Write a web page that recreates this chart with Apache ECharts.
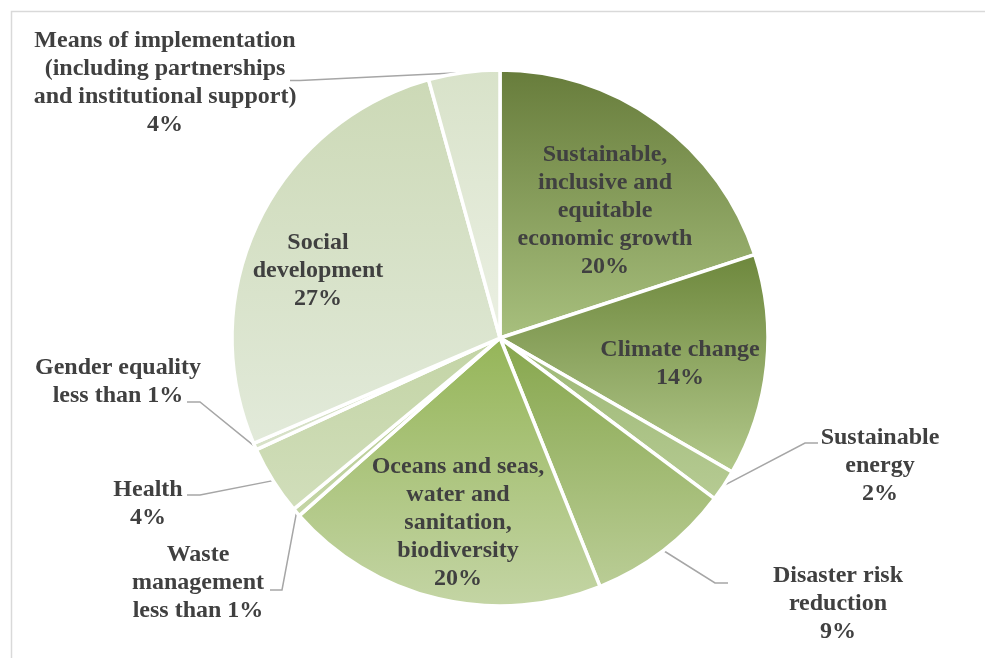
<!DOCTYPE html>
<html>
<head>
<meta charset="utf-8">
<script src="https://cdn.jsdelivr.net/npm/echarts@6/dist/echarts.min.js"></script>
<style>
    html, body { margin: 0; padding: 0; background: #fff; }
    #chart { width: 985px; height: 658px; }
</style>
</head>
<body>
<div id="chart"></div>
<script>
/*数据*/
var names = ['Sustainable, inclusive and equitable economic growth', 'Climate change', 'Sustainable energy',
    'Disaster risk reduction', 'Oceans and seas, water and sanitation, biodiversity', 'Waste management',
    'Health', 'Gender equality', 'Social development', 'Means of implementation (including partnerships and institutional support)'];
var values = [20.0, 13.4, 1.9, 8.7, 19.6, 0.5, 4.2, 0.4, 27.2, 4.3];
var labelTexts = [
    'Sustainable,\ninclusive and\nequitable\neconomic growth\n20%',
    'Climate change\n14%',
    'Sustainable\nenergy\n2%',
    'Disaster risk\nreduction\n9%',
    'Oceans and seas,\nwater and\nsanitation,\nbiodiversity\n20%',
    'Waste\nmanagement\nless than 1%',
    'Health\n4%',
    'Gender equality\nless than 1%',
    'Social\ndevelopment\n27%',
    'Means of implementation\n(including partnerships\nand institutional support)\n4%'
];
var insideLabel = [true, true, false, false, true, false, false, false, true, false];

/*样式*/
var gradients = [
    ['#677c3b', '#a8c07e'],
    ['#6d873c', '#b3c98c'],
    ['#9cb774', '#b6cb93'],
    ['#86a64c', '#bacd96'],
    ['#95b558', '#c4d5a5'],
    ['#b3c98c', '#c4d5a6'],
    ['#c3d4a5', '#d1debb'],
    ['#cfdbbc', '#d8e2c9'],
    ['#ccd9b6', '#e2eada'],
    ['#d8e2c9', '#ebf0e3']
];
// label positions: [x, y, line bend x, line bend y, line end x]
var labelPos = [
    [605, 211],
    [680, 364],
    [880, 466, 805, 443, 818],
    [838, 604, 715, 583, 728],
    [458, 523],
    [198, 583, 282, 590, 270],
    [148, 504, 200, 495, 187],
    [118, 382, 200, 402, 187],
    [318, 271],
    [165, 83, 300, 80.5, 290]
];

var chart = echarts.init(document.getElementById('chart'));
var seriesData = [];
for (var i = 0; i < names.length; i++) {
    seriesData.push({
        name: names[i],
        value: values[i],
        itemStyle: {
            color: new echarts.graphic.LinearGradient(0, 0, 0, 1, [
                { offset: 0, color: gradients[i][0] },
                { offset: 1, color: gradients[i][1] }
            ])
        },
        label: { position: insideLabel[i] ? 'inside' : 'outside' },
        labelLine: { show: !insideLabel[i] }
    });
}

chart.setOption({
    animation: false,
    graphic: [{
        type: 'rect',
        left: 9,
        top: 9,
        shape: { width: 1000, height: 700 },
        style: { fill: 'none', stroke: '#d9d9d9', lineWidth: 1.5 }
    }],
    series: [{
        type: 'pie',
        center: [500, 338],
        radius: 268,
        startAngle: 90,
        clockwise: true,
        avoidLabelOverlap: false,
        itemStyle: { borderColor: '#fff', borderWidth: 3.5 },
        label: {
            formatter: function (p) { return labelTexts[p.dataIndex]; },
            fontFamily: '"Liberation Serif", "Times New Roman", serif',
            fontWeight: 'bold',
            fontSize: 24,
            lineHeight: 28,
            color: '#404040',
            align: 'center'
        },
        labelLine: {
            lineStyle: { color: '#a6a6a6', width: 1.5 },
            length: 10,
            length2: 10
        },
        labelLayout: function (params) {
            var pos = labelPos[params.dataIndex];
            var res = { x: pos[0], y: pos[1], align: 'center', verticalAlign: 'middle' };
            if (pos.length > 2 && params.labelLinePoints) {
                var a = params.labelLinePoints[0];
                res.labelLinePoints = [[a[0], a[1]], [pos[2], pos[3]], [pos[4], pos[3]]];
            }
            return res;
        },
        data: seriesData
    }]
});
</script>
</body>
</html>
